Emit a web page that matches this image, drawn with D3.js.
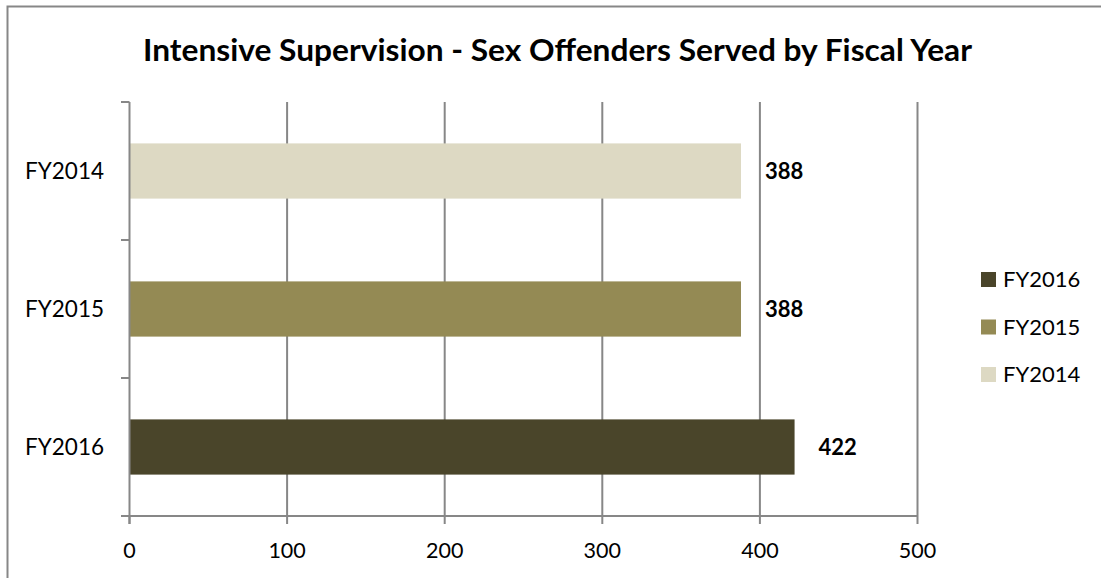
<!DOCTYPE html>
<html><head><meta charset="utf-8">
<script src="https://cdn.jsdelivr.net/npm/d3@7"></script>
<style>html,body{margin:0;padding:0;background:#fff;overflow:hidden}</style>
</head><body>
<svg id="c" width="1101" height="578"></svg>
<script>
const categories = ["FY2014", "FY2015", "FY2016"];
const values = [388, 388, 422];
const colors = ["#ddd9c3", "#948a54", "#4a452a"];
const legendOrder = ["FY2016", "FY2015", "FY2014"];
const xTicks = [0, 100, 200, 300, 400, 500];
const title = "Intensive Supervision - Sex Offenders Served by Fiscal Year";

const FONT = "Lato, 'Open Sans', sans-serif";
const svg = d3.select("#c");
const grid = "#878787";

// chart border (top & left visible)
svg.append("rect").attr("x", 7.5).attr("y", 6.5).attr("width", 1110).attr("height", 600)
  .attr("fill", "none").attr("stroke", grid).attr("stroke-width", 2);

svg.append("text").attr("x", 143).attr("y", 61)
  .attr("textLength", 829).attr("lengthAdjust", "spacingAndGlyphs")
  .attr("font-family", FONT).attr("font-weight", "bold").attr("font-size", 31)
  .attr("fill", "#000").text(title);

const x = d3.scaleLinear().domain([0, 500]).range([129.5, 917.5]);
const y = d3.scaleBand().domain(categories).range([102, 516]).paddingInner(0.6).paddingOuter(0.3);
const step = y.step();

// gridlines
svg.append("g").selectAll("line").data(xTicks.slice(1)).join("line")
  .attr("x1", d => x(d)).attr("x2", d => x(d)).attr("y1", 102).attr("y2", 516)
  .attr("stroke", grid).attr("stroke-width", 2);

// bars
svg.append("g").selectAll("rect").data(categories).join("rect")
  .attr("x", x(0)).attr("y", d => y(d))
  .attr("width", (d, i) => x(values[i]) - x(0)).attr("height", y.bandwidth())
  .attr("fill", (d, i) => colors[i]);

// y axis
svg.append("line").attr("x1", x(0)).attr("x2", x(0)).attr("y1", 102).attr("y2", 524)
  .attr("stroke", grid).attr("stroke-width", 2);
const yTickPos = d3.range(categories.length + 1).map(i => 102 + i * step);
svg.append("g").selectAll("line").data(yTickPos).join("line")
  .attr("x1", 121).attr("x2", x(0)).attr("y1", d => d).attr("y2", d => d)
  .attr("stroke", grid).attr("stroke-width", 2);
svg.append("g").selectAll("text").data(categories).join("text")
  .attr("x", 104).attr("y", d => y(d) + y.bandwidth() / 2 + 8).attr("text-anchor", "end")
  .attr("font-family", FONT).attr("font-size", 22.5).attr("fill", "#000").text(d => d);

// x axis
svg.append("line").attr("x1", 121).attr("x2", x(500)).attr("y1", 516).attr("y2", 516)
  .attr("stroke", grid).attr("stroke-width", 2);
svg.append("g").selectAll("line").data(xTicks).join("line")
  .attr("x1", d => x(d)).attr("x2", d => x(d)).attr("y1", 516).attr("y2", 524)
  .attr("stroke", grid).attr("stroke-width", 2);
svg.append("g").selectAll("text").data(xTicks).join("text")
  .attr("x", d => x(d)).attr("y", 558).attr("text-anchor", "middle")
  .attr("font-family", FONT).attr("font-size", 21.5).attr("fill", "#000").text(d => d);

// data labels
svg.append("g").selectAll("text").data(categories).join("text")
  .attr("x", (d, i) => x(values[i]) + 24).attr("y", d => y(d) + y.bandwidth() / 2 + 8)
  .attr("font-family", FONT).attr("font-weight", "bold").attr("font-size", 22)
  .attr("fill", "#000").text((d, i) => values[i]);

// legend
const lg = svg.append("g").selectAll("g").data(legendOrder).join("g")
  .attr("transform", (d, i) => `translate(981,${272 + i * 47.5})`);
lg.append("rect").attr("width", 15).attr("height", 15)
  .attr("fill", d => colors[categories.indexOf(d)]);
lg.append("text").attr("x", 22).attr("y", 15).attr("font-family", FONT).attr("font-size", 22)
  .attr("fill", "#000").text(d => d);
</script>
</body></html>
